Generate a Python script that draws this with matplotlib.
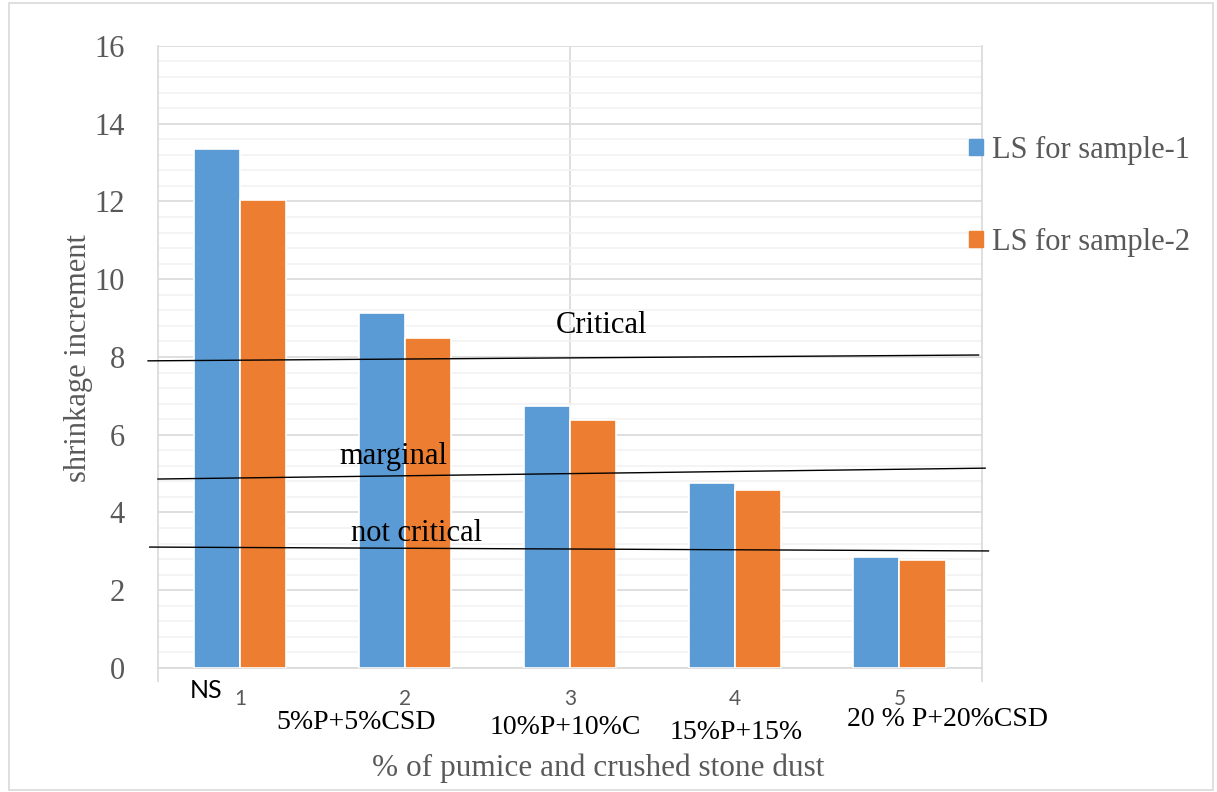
import matplotlib.pyplot as plt
import matplotlib.patches as mpatches
import numpy as np

# DATOS
categorias = ["1", "2", "3", "4", "5"]
muestra_1 = [13.35, 9.12, 6.73, 4.75, 2.85]
muestra_2 = [12.04, 8.48, 6.37, 4.59, 2.77]
etiquetas_cat = ["5%P+5%CSD", "10%P+10%C", "15%P+15%", "20 % P+20%CSD"]
series = ["LS for sample-1", "LS for sample-2"]

# lineas de referencia (x0, x1, y0, y1) en coordenadas de datos
lineas = {
    "Critical": ([-0.56, 4.48], [7.90, 8.05]),
    "marginal": ([-0.50, 4.52], [4.86, 5.14]),
    "not critical": ([-0.55, 4.54], [3.11, 3.01]),
}

AZUL = "#5B9BD5"
NARANJA = "#ED7D31"
GRIS = "#595959"
SERIF = "Liberation Serif"
SANS = "Lato"

fig = plt.figure(figsize=(12.17, 7.92), dpi=100)
ax = fig.add_axes([0.1298, 0.1566, 0.677, 0.7854])

# borde de la figura
fig.patches.append(mpatches.Rectangle((0.007, 0.003), 0.99, 0.993, transform=fig.transFigure,
                                      fill=False, edgecolor="#D9D9D9", linewidth=1.2))

x = np.arange(len(categorias))
w = 0.28
ax.bar(x - 0.14, muestra_1, w, color=AZUL, edgecolor="white", linewidth=1.2, zorder=3, label=series[0])
ax.bar(x + 0.14, muestra_2, w, color=NARANJA, edgecolor="white", linewidth=1.2, zorder=3, label=series[1])

ax.set_xlim(-0.5, 4.5)
ax.set_ylim(0, 16)

# rejilla
ax.set_yticks(np.arange(0, 17, 2))
ax.set_yticks(np.arange(0, 16.01, 0.4), minor=True)
ax.grid(which="minor", axis="y", color="#F2F2F2", linewidth=1.2, zorder=0)
ax.grid(which="major", axis="y", color="#D9D9D9", linewidth=1.2, zorder=0)
ax.axvline(2.0, color="#D9D9D9", linewidth=1.2, zorder=1)

for s in ["left", "right", "bottom"]:
    ax.spines[s].set_color("#D9D9D9")
    ax.spines[s].set_linewidth(1.2)
ax.spines["top"].set_visible(False)

ax.set_xticks(x)
ax.set_xticklabels(categorias, fontsize=15, color=GRIS, family=SANS)
ax.tick_params(axis="x", length=0, pad=15)
ax.set_xticks([-0.5, 4.5], minor=True)
ax.tick_params(axis="x", which="minor", length=10, color="#D9D9D9", width=1.2)
ax.tick_params(axis="y", which="both", length=0, pad=24)
for t in ax.get_yticklabels():
    t.set_fontsize(22)
    t.set_color(GRIS)
    t.set_family(SERIF)

ax.set_ylabel("shrinkage increment", fontsize=22, color=GRIS, family=SERIF)
ax.yaxis.label.set_verticalalignment("center")
ax.yaxis.set_label_coords(-0.097, 0.498)
ax.set_xlabel("% of pumice and crushed stone dust", fontsize=22.5, color=GRIS, family=SERIF)
ax.xaxis.label.set_verticalalignment("center")
ax.xaxis.set_label_coords(0.534, -0.161)

# lineas de criterio
for nombre, (xs, ys) in lineas.items():
    ax.plot(xs, ys, color="black", linewidth=1.0, zorder=4, clip_on=False)
ax.text(2.19, 8.82, "Critical", fontsize=22, family=SERIF, ha="center", va="center", zorder=5)
ax.text(0.93, 5.45, "marginal", fontsize=22, family=SERIF, ha="center", va="center", zorder=5)
ax.text(1.07, 3.47, "not critical", fontsize=22, family=SERIF, ha="center", va="center", zorder=5)

# etiquetas de categoria
ax.text(-0.21, -0.57, "NS", fontsize=18, family=SANS, ha="center", va="center", clip_on=False)
pos_etq = [(0.70, -1.39), (1.97, -1.52), (3.01, -1.67), (4.29, -1.33)]
for txt, (px, py) in zip(etiquetas_cat, pos_etq):
    ax.text(px, py, txt, fontsize=20, family=SERIF, ha="center", va="center", clip_on=False)

# leyenda
fig.legend(handles=[mpatches.Patch(color=AZUL), mpatches.Patch(color=NARANJA)], labels=series,
           loc="upper left", bbox_to_anchor=(0.774, 0.863), frameon=False,
           prop={"family": SERIF, "size": 22}, handlelength=0.45, handleheight=0.45,
           handletextpad=0.3, labelspacing=2.05, labelcolor=GRIS)

fig.savefig("out.png", dpi=100)
